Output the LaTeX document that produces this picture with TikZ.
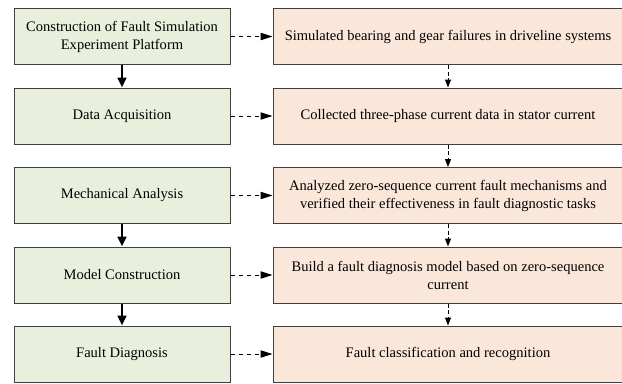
\documentclass[tikz,border=0pt]{standalone}
\usepackage{fontspec}
\setmainfont{Liberation Serif}
\usetikzlibrary{
    arrows.meta,
    positioning
}
\definecolor{stagefill}{RGB}{232,239,220}
\definecolor{resultfill}{RGB}{251,231,218}
\definecolor{boxline}{RGB}{64,64,64}

\begin{document}
\begin{tikzpicture}[
        x=0.75pt, y=-0.75pt,
        box/.style={
            draw=boxline,
            line width=0.75pt,
            minimum height=42pt,
            inner sep=0pt,
            align=center,
            font=\fontsize{10.9}{13.5}\selectfont
        },
        stage/.style={
            box,
            fill=stagefill,
            minimum width=162pt
        },
        result/.style={
            box,
            fill=resultfill,
            minimum width=262.5pt
        },
        mainflow/.style={
            -{Triangle[length=7.5pt,width=6.5pt]},
            line width=2.2pt
        },
        sideflow/.style={
            -{Triangle[length=9pt,width=5.5pt]},
            line width=0.75pt,
            dash pattern=on 3.5pt off 2.5pt
        },
        downflow/.style={
            -{Triangle[length=6pt,width=4.5pt]},
            line width=0.75pt,
            dash pattern=on 3pt off 2pt
        }
    ]
        \useasboundingbox (0,0) rectangle (622,383);

        % stages
        \node[stage] (S1) at (122,36.5) {Construction of Fault Simulation\\Experiment Platform};
        \node[stage] (S2) at (122,116) {Data Acquisition};
        \node[stage] (S3) at (122,195.5) {Mechanical Analysis};
        \node[stage] (S4) at (122,275) {Model Construction};
        \node[stage] (S5) at (122,354) {Fault Diagnosis};

        % results
        \node[result] (R1) at (448,36.5) {Simulated bearing and gear failures in driveline systems};
        \node[result] (R2) at (448,116) {Collected three-phase current data in stator current};
        \node[result] (R3) at (448,195.5) {Analyzed zero-sequence current fault mechanisms and\\verified their effectiveness in fault diagnostic tasks};
        \node[result] (R4) at (448,275) {Build a fault diagnosis model based on zero-sequence\\current};
        \node[result] (R5) at (448,354) {Fault classification and recognition};

        \draw[mainflow] (S1) -- (S2);
        \draw[mainflow] (S3) -- (S4);
        \draw[mainflow] (S4) -- (S5);

        \foreach \i in {1,...,5} {
            \draw[sideflow] (S\i) -- (R\i);
        }
        \foreach \i/\j in {1/2,2/3,3/4,4/5} {
            \draw[downflow] (R\i) -- (R\j);
        }
    \end{tikzpicture}
\end{document}
